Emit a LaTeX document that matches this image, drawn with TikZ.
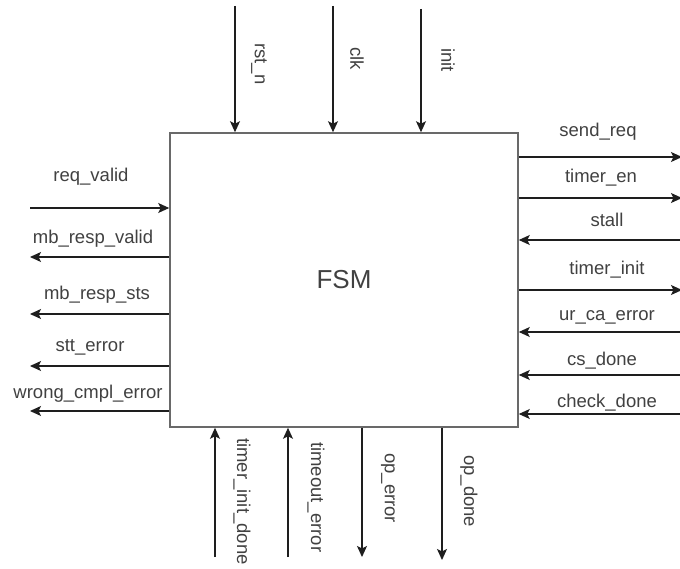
\documentclass[tikz,border=0pt]{standalone}
\usepackage{fontspec}
\setmainfont{Liberation Sans}
\usetikzlibrary{arrows.meta}
\definecolor{txt}{RGB}{65,65,65}
\definecolor{ln}{RGB}{30,30,30}
\definecolor{bx}{RGB}{105,105,105}
\begin{document}
\begin{tikzpicture}[x=1pt,y=-1pt,
  lbl/.style={font=\fontsize{18.5}{22}\selectfont, text=txt, inner sep=0pt, anchor=base},
  vlbl/.style={font=\fontsize{18.5}{22}\selectfont, text=txt, inner sep=0pt, rotate=-90, anchor=west},
  sig/.style={draw=ln, line width=1.2pt, -{Stealth[length=11pt,width=10pt,inset=2.5pt]}},
  fsmbox/.style={draw=bx, line width=1.6pt, minimum width=348pt, minimum height=294pt, inner sep=0pt,
    font=\fontsize{26}{30}\selectfont, text=txt}
]
\useasboundingbox[fill=white] (0,0) rectangle (680,569);
\node[fsmbox] (fsm) at (344,280) {FSM};

% top inputs
\coordinate (rstS) at (235,6);
\coordinate (clkS) at (333,6);
\coordinate (initS) at (421,9);
\draw[sig] (rstS) -- (rstS |- fsm.north);
\draw[sig] (clkS) -- (clkS |- fsm.north);
\draw[sig] (initS) -- (initS |- fsm.north);
\node[vlbl] (rstL) at (259,43) {rst\_n};
\node[vlbl] (clkL) at (357,47) {clk};
\node[vlbl] (initL) at (448,48) {init};

% bottom
\coordinate (tidS) at (215,557);
\coordinate (toeS) at (288,557);
\coordinate (opeE) at (362,557);
\coordinate (opdE) at (442,560);
\draw[sig] (tidS) -- (tidS |- fsm.south);
\draw[sig] (toeS) -- (toeS |- fsm.south);
\draw[sig] (opeE |- fsm.south) -- (opeE);
\draw[sig] (opdE |- fsm.south) -- (opdE);
\node[vlbl] (tidL) at (242,438) {timer\_init\_done};
\node[vlbl] (toeL) at (316,442) {timeout\_error};
\node[vlbl] (opeL) at (388,453) {op\_error};
\node[vlbl] (opdL) at (469,455) {op\_done};

% left
\coordinate (rvS) at (30,208);
\coordinate (mbvE) at (30,257);
\coordinate (mbsE) at (30,314);
\coordinate (sttE) at (30,366);
\coordinate (wceE) at (30,411);
\draw[sig] (rvS) -- (rvS -| fsm.west);
\draw[sig] (mbvE -| fsm.west) -- (mbvE);
\draw[sig] (mbsE -| fsm.west) -- (mbsE);
\draw[sig] (sttE -| fsm.west) -- (sttE);
\draw[sig] (wceE -| fsm.west) -- (wceE);
\node[lbl] (rvL) at (91,182) {req\_valid};
\node[lbl] (mbvL) at (93,244) {mb\_resp\_valid};
\node[lbl] (mbsL) at (97,300) {mb\_resp\_sts};
\node[lbl] (sttL) at (90,352) {stt\_error};
\node[lbl] (wceL) at (88,398) {wrong\_cmpl\_error};

% right
\coordinate (srE) at (682,157);
\coordinate (teE) at (682,198);
\coordinate (stS) at (680,240);
\coordinate (tiE) at (682,290);
\coordinate (urS) at (680,332);
\coordinate (csS) at (680,375);
\coordinate (chS) at (680,414);
\draw[sig] (srE -| fsm.east) -- (srE);
\draw[sig] (teE -| fsm.east) -- (teE);
\draw[sig] (stS) -- (stS -| fsm.east);
\draw[sig] (tiE -| fsm.east) -- (tiE);
\draw[sig] (urS) -- (urS -| fsm.east);
\draw[sig] (csS) -- (csS -| fsm.east);
\draw[sig] (chS) -- (chS -| fsm.east);
\node[lbl] (srL) at (598,137) {send\_req};
\node[lbl] (teL) at (601,183) {timer\_en};
\node[lbl] (stL) at (607,227) {stall};
\node[lbl] (tiL) at (607,275) {timer\_init};
\node[lbl] (urL) at (607,320) {ur\_ca\_error};
\node[lbl] (csL) at (602,365) {cs\_done};
\node[lbl] (chL) at (607,407) {check\_done};
\end{tikzpicture}
\end{document}
